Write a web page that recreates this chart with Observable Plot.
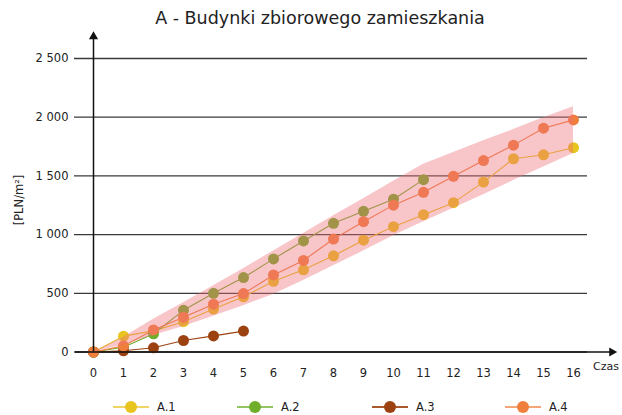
<!DOCTYPE html>
<html><head><meta charset="utf-8">
<script src="https://cdn.jsdelivr.net/npm/d3@7"></script>
<script src="https://cdn.jsdelivr.net/npm/@observablehq/plot@0.6"></script>
<style>
body{margin:0;background:#fff;font-family:"DejaVu Sans",Verdana,sans-serif;color:#222;}
#wrap{position:relative;width:622px;height:415px;overflow:hidden;}
#chart{position:absolute;left:0;top:0;}
.abs{position:absolute;white-space:nowrap;}
#title{left:0;width:640px;top:8px;text-align:center;font-size:17.5px;color:#222;}
#ylab{left:19px;top:200px;font-size:11.5px;transform:translate(-50%,-50%) rotate(-90deg);}
#czas{left:593px;top:360px;font-size:11px;}
.leg{top:399px;height:16px;font-size:11.5px;}
.leg svg{position:absolute;top:0;}
.leg span{position:absolute;top:1px;}
</style></head>
<body>
<div id="wrap">
  <div id="chart"></div>
  <div id="title" class="abs">A - Budynki zbiorowego zamieszkania</div>
  <div id="ylab" class="abs">[PLN/m²]</div>
  <div id="czas" class="abs">Czas</div>
  <div id="legend"></div>
</div>
<script>
// ---- data ----
const czas = [0,1,2,3,4,5,6,7,8,9,10,11,12,13,14,15,16];
const seriesNames = ["A.1","A.2","A.3","A.4"];
const a1 = [0,135,180,258,366,470,602,700,819,952,1067,1170,1272,1447,1646,1680,1740];
const a2 = [0,40,155,355,500,634,793,946,1096,1198,1301,1468];
const a3 = [0,10,36,98,137,178];
const a4 = [0,52,188,297,407,498,656,780,962,1110,1251,1360,1497,1631,1762,1906,1977];
const bandUpper = [0,125,280,420,565,710,860,1010,1160,1305,1455,1600,1700,1800,1895,1995,2090];
const bandLower = [0,60,140,218,305,395,490,610,735,860,990,1110,1225,1340,1460,1575,1690];
const yTicks = [0,500,1000,1500,2000,2500];

const dotColors = ["#e8c41e","#6fae2a","#9c4210","#f07f3e"];
const legLineColors = ["#f0d468","#93c464","#a85a2c","#f4a676"];

// ---- tables ----
const vals = [a1,a2,a3,a4];
const rows = [];
vals.forEach((arr,i)=>arr.forEach((v,j)=>rows.push({czas:czas[j], value:v, series:seriesNames[i]})));
const band = czas.map((c,i)=>({czas:c, lower:bandLower[i], upper:bandUpper[i]}));

const xMin = czas[0], xMax = czas[czas.length-1];
const yMax = yTicks[yTicks.length-1];
const xAxisStart = xMin - 0.6, xAxisEnd = xMax + 1.28;
const yAxisEnd = yMax * 1.075;
const fmt = d => d3.format(",")(d).replace(",", " ");

const chart = Plot.plot({
  width: 622, height: 415,
  marginLeft: 74, marginRight: 35, marginTop: 58, marginBottom: 63.5,
  style: {fontFamily: '"DejaVu Sans",Verdana,sans-serif', fontSize: "11.5px", color: "#222", background: "transparent", overflow: "visible"},
  x: {domain: [xMin, xMax], range: [93, 573]},
  y: {domain: [0, yMax], range: [351.5, 58]},
  color: {domain: seriesNames, range: dotColors},
  marks: [
    Plot.gridY(yTicks, {stroke: "#3a3a3a", strokeOpacity: 1, strokeWidth: 1.3}),
    Plot.axisY(yTicks, {tickSize: 0, tickPadding: 6, tickFormat: fmt, label: null, fill: "#222", fontSize: 11.5}),
    Plot.axisX(czas, {tickSize: 0, tickPadding: 16.5, label: null, fill: "#222", fontSize: 11.5}),
    Plot.line(rows, {x: "czas", y: "value", z: "series", stroke: "series", strokeWidth: 1.1}),
    Plot.dot(rows, {x: "czas", y: "value", fill: "series", r: 5.5}),
    Plot.areaY(band, {x: "czas", y1: "lower", y2: "upper", fill: "#ee6e78", fillOpacity: 0.4}),
    Plot.ruleY([0], {x1: xAxisStart, x2: xAxisEnd, stroke: "#111", strokeWidth: 1.5}),
    Plot.ruleX([0], {y1: 0, y2: yAxisEnd, stroke: "#111", strokeWidth: 1.5}),
    Plot.dot([{x: xAxisEnd, y: 0}], {x: "x", y: "y", symbol: "triangle", rotate: 90, fill: "#111", r: 3.4}),
    Plot.dot([{x: 0, y: yAxisEnd}], {x: "x", y: "y", symbol: "triangle", fill: "#111", r: 3.4})
  ]
});
document.getElementById("chart").appendChild(chart);

// ---- legend ----
const legPos = [113, 237, 372, 505];
const leg = document.getElementById("legend");
seriesNames.forEach((s,i)=>{
  const d = document.createElement("div");
  d.className = "abs leg";
  d.style.left = legPos[i] + "px";
  d.innerHTML = `<svg width="40" height="16"><line x1="0" x2="36" y1="8" y2="8" stroke="${legLineColors[i]}" stroke-width="2"/><circle cx="18" cy="8" r="6" fill="${dotColors[i]}"/></svg><span style="left:44px">${s}</span>`;
  leg.appendChild(d);
});
</script>
</body></html>
